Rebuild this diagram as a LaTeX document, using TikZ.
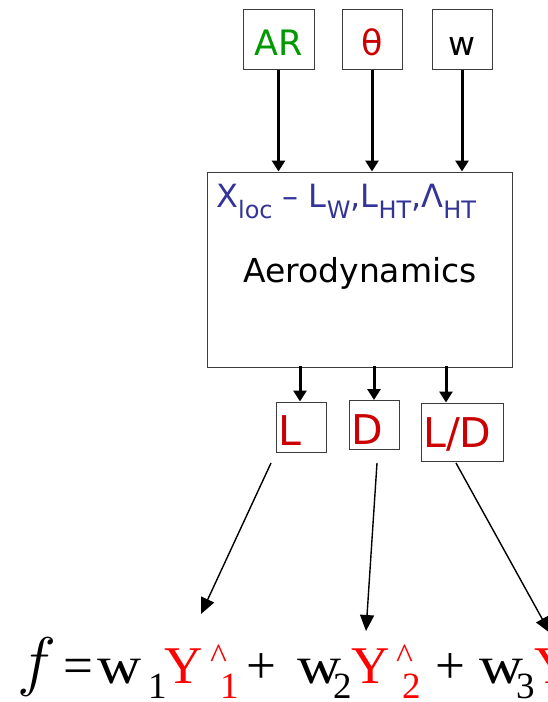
\documentclass[tikz,border=0pt]{standalone}
\usepackage{fontspec}
\setmainfont{DejaVu Sans}
\newfontfamily\eqfont{Liberation Serif}
\usetikzlibrary{arrows.meta}
\definecolor{arGreen}{RGB}{0,153,0}
\definecolor{thRed}{RGB}{204,0,0}
\definecolor{fBlue}{RGB}{51,51,153}
\definecolor{eqRed}{RGB}{255,0,0}
\definecolor{boxGray}{RGB}{60,60,60}
\newcommand{\fsz}[1]{\fontsize{#1}{#1}\selectfont}
\newcommand{\blsub}[1]{\raisebox{-11pt}{\fsz{24}#1}}
\newcommand{\wideW}{\scalebox{1.15}[1]{w}}
\begin{document}
\begin{tikzpicture}[x=1pt,y=-1pt,
  boxnode/.style={draw=boxGray,line width=1pt,inner sep=0pt},
  inlabel/.style={text height=31pt,text depth=0pt},
  lbl/.style={inner sep=0pt,anchor=base west,text=thRed,font=\fsz{41}},
  thick arrow/.style={line width=3pt,-{Triangle[length=11pt,width=13pt]}},
  thin arrow/.style={line width=1.4pt,-{Triangle[length=16pt,width=14pt]}},
  eqpiece/.style={inner sep=0pt,anchor=base west}]
\useasboundingbox (0,0) rectangle (547,702);
% input boxes
\node[boxnode,inlabel,minimum width=71pt,minimum height=60pt,text=arGreen,font=\fsz{35}] (ar) at (278.5,39.5) {AR};
\node[boxnode,inlabel,minimum width=60pt,minimum height=60pt,text=thRed,font=\fsz{35}] (th) at (372,39.5) {θ};
\node[boxnode,inlabel,minimum width=60pt,minimum height=60pt,font=\fsz{33}] (w) at (462,39.5) {w};
% aerodynamics box
\node[boxnode,minimum width=305pt,minimum height=195pt] (aero) at (359.5,269.5) {};
\node[inner sep=0pt,anchor=base west,text=fBlue,font=\fsz{32}] (vars) at (216,207)
  {X\blsub{loc} – L\blsub{W},L\blsub{HT},Λ\blsub{HT}};
\node[inner sep=0pt,anchor=base,font=\fsz{33}] (aerolbl) at (360,282) {Aerodynamics};
% output boxes
\node[boxnode,minimum width=50pt,minimum height=50pt] (Lbox) at (301,427) {};
\node[boxnode,minimum width=50pt,minimum height=49pt] (Dbox) at (374,425) {};
\node[boxnode,minimum width=82pt,minimum height=58pt] (LDbox) at (462,432) {};
\node[lbl] (Llbl) at (278,445) {L};
\node[lbl] (Dlbl) at (351,444) {D};
\node[lbl] (LDlbl) at (423,447) {L/D};
% arrows in
\draw[thick arrow] (ar.south) -- (ar.south |- aero.north);
\draw[thick arrow] (th.south) -- (th.south |- aero.north);
\draw[thick arrow] (w.south) -- (w.south |- aero.north);
% arrows out
\coordinate (o1) at (300,366);
\coordinate (o2) at (374,366);
\coordinate (o3) at (446,366);
\draw[thick arrow] (o1) -- (o1 |- Lbox.north);
\draw[thick arrow] (o2) -- (o2 |- Dbox.north);
\draw[thick arrow] (o3) -- (o3 |- LDbox.north);
% equation
\node[eqpiece,font=\fsz{24}] (ef) at (17,683) {\scalebox{2.65}{$f$}};
\node[eqpiece,font=\eqfont\fsz{53}] (eq) at (63,683) {=};
\node[eqpiece,font=\eqfont\fsz{53}] (w1) at (97,683) {\wideW};
\node[eqpiece,font=\eqfont\fsz{37}] (s1) at (148,698) {1};
\node[eqpiece,font=\eqfont\fsz{53},text=eqRed] (y1) at (164,683) {Y};
\node[eqpiece,font=\eqfont\fsz{36},text=eqRed] (c1) at (210,668) {\^{}};
\node[eqpiece,font=\eqfont\fsz{37},text=eqRed] (r1) at (220,698) {1};
\node[eqpiece,font=\eqfont\fsz{53}] (p1) at (246,683) {+};
\node[eqpiece,font=\eqfont\fsz{53}] (w2) at (297,683) {\wideW};
\node[eqpiece,font=\eqfont\fsz{37}] (s2) at (333,698) {2};
\node[eqpiece,font=\eqfont\fsz{53},text=eqRed] (y2) at (351,683) {Y};
\node[eqpiece,font=\eqfont\fsz{36},text=eqRed] (c2) at (396,668) {\^{}};
\node[eqpiece,font=\eqfont\fsz{37},text=eqRed] (r2) at (402,698) {2};
\node[eqpiece,font=\eqfont\fsz{53}] (p2) at (435,683) {+};
\node[eqpiece,font=\eqfont\fsz{53}] (w3) at (479,683) {\wideW};
\node[eqpiece,font=\eqfont\fsz{37}] (s3) at (516,698) {3};
\node[eqpiece,font=\eqfont\fsz{53},text=eqRed] (y3) at (534,683) {Y};
% arrows to equation
\coordinate (f1) at (271,463);
\coordinate (f2) at (377,463);
\coordinate (f3) at (456,463);
\coordinate (t1) at (201,614);
\coordinate (t2) at (366,631);
\coordinate (t3) at (550,633);
\draw[thin arrow] (f1) -- (t1);
\draw[thin arrow] (f2) -- (t2);
\draw[thin arrow] (f3) -- (t3);
\end{tikzpicture}
\end{document}
